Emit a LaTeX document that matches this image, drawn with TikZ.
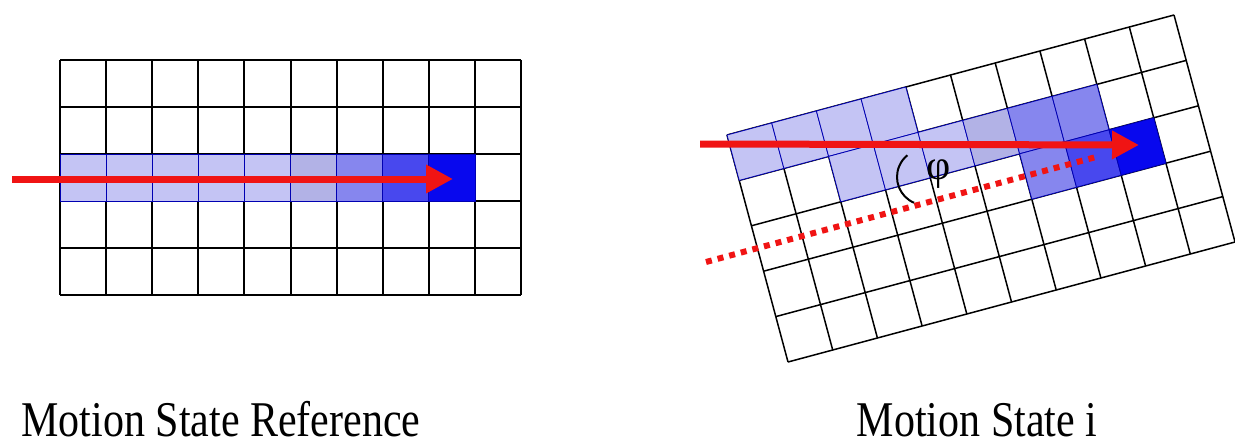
\documentclass[tikz,border=0pt]{standalone}
\usepackage{fontspec}
\setmainfont{Liberation Serif}
\newfontfamily\capfont[FakeStretch=0.84]{Liberation Serif}
\usetikzlibrary{arrows.meta}
\definecolor{cLight}{HTML}{C4C4F4}
\definecolor{cGrey}{HTML}{B2B2E6}
\definecolor{cMid}{HTML}{8686EE}
\definecolor{cDark}{HTML}{4848EE}
\definecolor{cSolid}{HTML}{0808EE}
\definecolor{cPath}{HTML}{F01414}
\tikzset{
  gline/.style={draw=black, line width=1pt},
  rgline/.style={draw=black, line width=0.75pt},
  cell/.style={draw=blue!70!black, line width=0.4pt},
  motion/.style={cPath, line width=3.5pt, -{Triangle[length=13.5pt, width=13.5pt]}},
  heading/.style={cPath, line width=3pt, dash pattern=on 3pt off 3pt},
  anglearc/.style={black, line width=1pt},
  caption/.style={font=\capfont\fontsize{25}{28}\selectfont, inner sep=0pt, anchor=base, text depth=0pt},
  philbl/.style={font=\fontsize{21}{24}\selectfont, inner sep=0pt},
}

\begin{document}
\begin{tikzpicture}[x=0.5pt, y=-0.5pt]
    \useasboundingbox (0,0) rectangle (1235,444);
    % reference grid
    \begin{scope}[shift={(60,60)}, x=23.05pt, y=-23.5pt]
      \foreach \i in {0,...,10} \draw[gline] (\i,0) -- (\i,5);
      \foreach \j in {0,...,5} \draw[gline] (0,\j) -- (10,\j);
      \foreach \i/\c in {0/cLight,1/cLight,2/cLight,3/cLight,4/cLight,5/cGrey,6/cMid,7/cDark,8/cSolid}
        \filldraw[cell, fill=\c] (\i,2) -- ++(1,0) -- ++(0,1) -- ++(-1,0) -- cycle;
    \end{scope}
    \coordinate (refStart) at (12,179);
    \coordinate (refEnd) at (453,179);
    \draw[motion] (refStart) -- (refEnd);
    \node[caption] (capRef) at (221,436) {Motion State Reference};

    % rotated grid of motion state i
    \begin{scope}[shift={(727,135)}, x={(22.35pt,6pt)}, y={(6.1pt,-22.7pt)}]
      \foreach \i in {0,...,10} \draw[rgline] (\i,0) -- (\i,5);
      \foreach \j in {0,...,5} \draw[rgline] (0,\j) -- (10,\j);
      \foreach \i/\j/\c in {0/0/cLight,1/0/cLight,2/0/cLight,3/0/cLight,2/1/cLight,3/1/cLight,4/1/cLight,
                            5/1/cGrey,6/1/cMid,7/1/cMid,6/2/cMid,7/2/cDark,8/2/cSolid}
        \filldraw[cell, fill=\c] (\i,\j) -- ++(1,0) -- ++(0,1) -- ++(-1,0) -- cycle;
    \end{scope}
    \coordinate (curStart) at (700,144);
    \coordinate (curEnd) at (1139,145);
    \coordinate (headStart) at (706,262);
    \coordinate (headEnd) at (1096,157);
    \draw[heading] (headStart) -- (headEnd);
    \draw[motion] (curStart) -- (curEnd);
    \coordinate (arcCtr) at (925,177);
    \draw[anglearc] (arcCtr) ++(113:28) arc[start angle=113, end angle=231, radius=28];
    \node[philbl] (phi) at (939,174) {φ};
    \node[caption] (capCur) at (977,436) {Motion State i};
  \end{tikzpicture}
\end{document}
